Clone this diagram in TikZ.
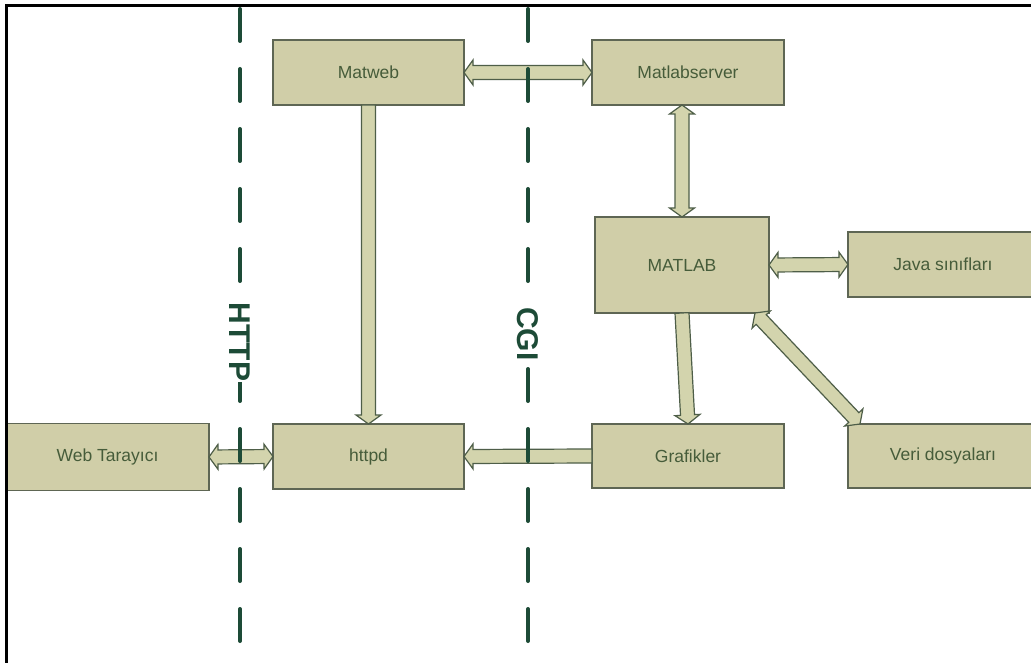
\documentclass[tikz,border=0pt]{standalone}
\usepackage{fontspec}
\setmainfont{Liberation Sans}
\usetikzlibrary{calc}
\definecolor{boxfill}  {HTML}{D0CEA8}
\definecolor{arrfill}  {HTML}{D3D4AD}
\definecolor{boxline}  {HTML}{5E6654}
\definecolor{arrline}  {HTML}{4E5E48}
\definecolor{txtgreen} {HTML}{465C3A}
\definecolor{lanegreen}{HTML}{1D4B37}
\newcommand{\arrsw}{7pt}
\newcommand{\arrhw}{12.5pt}
\newcommand{\arrhl}{9pt}
\tikzset{
  compbox/.style  ={draw=boxline, fill=boxfill, line width=1.4pt,
                    minimum width=191pt, minimum height=65pt,
                    inner sep=0pt, outer sep=0pt, text=txtgreen,
                    font=\fontsize{17.5}{20}\selectfont},
  lane/.style     ={draw=lanegreen, line width=4pt, line cap=round,
                    dash pattern=on 32pt off 28pt},
  lanelabel/.style={fill=white, text=lanegreen, rotate=-90, inner sep=1pt,
                    font=\fontsize{30}{32}\selectfont\bfseries},
  twoway/.style   ={draw=arrline, fill=arrfill, line width=1.2pt,
                    to path={let \p1=(\tikztostart), \p2=(\tikztotarget),
                      \n1={atan2(\y2-\y1,\x2-\x1)} in
                      (\p1) -- ($(\p1)+({\n1}:\arrhl)+({\n1+90}:\arrhw)$)
                      -- ($(\p1)+({\n1}:\arrhl)+({\n1+90}:\arrsw)$)
                      -- ($(\p2)+({\n1+180}:\arrhl)+({\n1+90}:\arrsw)$)
                      -- ($(\p2)+({\n1+180}:\arrhl)+({\n1+90}:\arrhw)$)
                      -- (\p2) -- ($(\p2)+({\n1+180}:\arrhl)+({\n1-90}:\arrhw)$)
                      -- ($(\p2)+({\n1+180}:\arrhl)+({\n1-90}:\arrsw)$)
                      -- ($(\p1)+({\n1}:\arrhl)+({\n1-90}:\arrsw)$)
                      -- ($(\p1)+({\n1}:\arrhl)+({\n1-90}:\arrhw)$) -- cycle}},
  oneway/.style   ={draw=arrline, fill=arrfill, line width=1.2pt,
                    to path={let \p1=(\tikztostart), \p2=(\tikztotarget),
                      \n1={atan2(\y2-\y1,\x2-\x1)} in
                      ($(\p1)+({\n1+90}:\arrsw)$)
                      -- ($(\p2)+({\n1+180}:\arrhl)+({\n1+90}:\arrsw)$)
                      -- ($(\p2)+({\n1+180}:\arrhl)+({\n1+90}:\arrhw)$)
                      -- (\p2) -- ($(\p2)+({\n1+180}:\arrhl)+({\n1-90}:\arrhw)$)
                      -- ($(\p2)+({\n1+180}:\arrhl)+({\n1-90}:\arrsw)$)
                      -- ($(\p1)+({\n1-90}:\arrsw)$) -- cycle}},
}
\begin{document}
\begin{tikzpicture}[x=1pt,y=-1pt]
  \useasboundingbox (0,0) rectangle (1031,663);
  \fill[white] (0,0) rectangle (1031,663);
  % boxes
  \node[compbox] (matweb) at (368.5,72.5) {Matweb};
  \node[compbox, minimum width=192pt] (mserver) at (688,72.5) {Matlabserver};
  \node[compbox, minimum width=174pt, minimum height=96pt] (matlab) at (682,265) {MATLAB};
  \node[compbox, minimum width=190pt] (java) at (943,264.5) {Java sınıfları};
  \node[compbox, minimum width=203pt, minimum height=67pt] (web) at (107.5,457) {Web Tarayıcı};
  \node[compbox] (httpd) at (368.5,456.5) {httpd};
  \node[compbox, minimum width=192pt, minimum height=64pt] (graf) at (688,456) {Grafikler};
  \node[compbox, minimum width=190pt, minimum height=64pt] (veri) at (943,456) {Veri dosyaları};
  % arrows
  \draw[twoway] (matweb.east) to (mserver.west);
  \draw[oneway] (matweb.south) to (httpd.north);
  \draw[twoway] (matlab.north |- mserver.south) to (matlab.north);
  \draw[twoway] (matlab.east) to (java.west);
  \draw[oneway] (matlab.south) to (graf.north);
  \draw[twoway] ([xshift=-14pt]matlab.south east) to ([xshift=12pt]veri.north west);
  \draw[oneway] (graf.west) to (httpd.east);
  \draw[twoway] (web.east) to (httpd.west);
  % protocol lanes
  \coordinate (httptop) at (240,9);
  \coordinate (httpbot) at (240,668);
  \coordinate (cgitop) at (528,9);
  \coordinate (cgibot) at (528,668);
  \draw[lane] (httptop) -- (httpbot);
  \draw[lane] (cgitop) -- (cgibot);
  \node[lanelabel] (httplbl) at (240,342) {HTTP};
  \node[lanelabel] (cgilbl) at (528,334) {CGI};
  % frame
  \draw[black, line width=2.6pt] (6.7,663) -- (6.7,5.3) -- (1031,5.3);
\end{tikzpicture}
\end{document}
